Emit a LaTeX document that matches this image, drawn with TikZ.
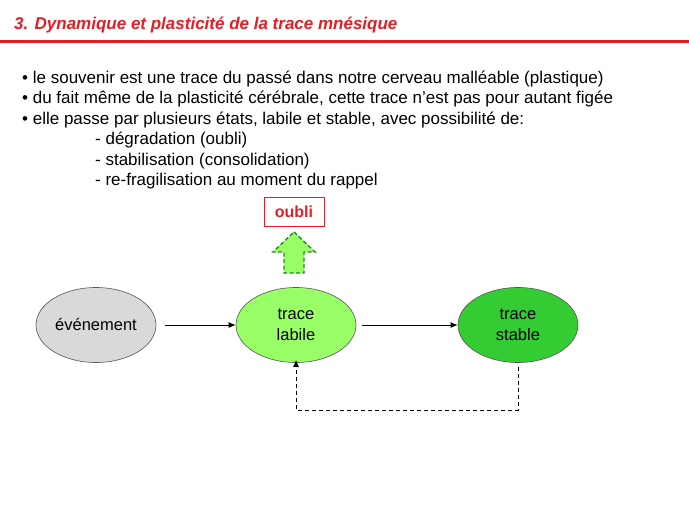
\documentclass[tikz,border=0pt]{standalone}
\usepackage{fontspec}
\setmainfont{Liberation Sans}
\usetikzlibrary{shapes.geometric,arrows.meta}
\definecolor{titlered}{HTML}{E31E24}
\definecolor{evgray}{HTML}{D9D9D9}
\definecolor{labgreen}{HTML}{99FF66}
\definecolor{stabgreen}{HTML}{33CC33}
\definecolor{edgegray}{HTML}{555555}
\definecolor{darkgreen}{HTML}{1E8C1E}
\tikzset{
  stage/.style={ellipse, draw=edgegray, line width=0.6pt, minimum width=120pt, minimum height=75pt, inner sep=0pt, align=center, font=\fontsize{16.5}{21}\selectfont},
  flow/.style={-{Latex[length=7pt,width=6pt]}, line width=0.9pt},
  txt/.style={anchor=base west, inner sep=0pt, font=\fontsize{17}{20}\selectfont}
}
\begin{document}
\begin{tikzpicture}[x=1pt,y=-1pt]
\useasboundingbox (0,0) rectangle (689,517);
\fill[white] (0,0) rectangle (689,517);
% title
\node[anchor=base west, inner sep=0pt, text=titlered, font=\fontsize{17}{19}\selectfont\bfseries\itshape] (title) at (14,29) {3. Dynamique et plasticité de la trace mnésique};
\fill[titlered] (0,40) rectangle (689,43);
% bullets
\node[txt] (b1) at (22,83) {• le souvenir est une trace du passé dans notre cerveau malléable (plastique)};
\node[txt] (b2) at (22,103.5) {• du fait même de la plasticité cérébrale, cette trace n’est pas pour autant figée};
\node[txt] (b3) at (22,124) {• elle passe par plusieurs états, labile et stable, avec possibilité de:};
\node[txt] (s1) at (95,144.5) {- dégradation (oubli)};
\node[txt] (s2) at (95,165) {- stabilisation (consolidation)};
\node[txt] (s3) at (95,185.5) {- re-fragilisation au moment du rappel};
% oubli
\node[draw=titlered, line width=0.6pt, text=titlered, font=\fontsize{16}{18}\selectfont\bfseries, minimum width=60pt, minimum height=29pt, inner sep=0pt] (oubli) at (294,212) {oubli};
% dashed up arrow
\draw[fill=labgreen, draw=darkgreen, dash pattern=on 4pt off 2.5pt, line width=1.4pt]
  (294,232) -- (315,252) -- (304,252) -- (304,273) -- (284,273) -- (284,252) -- (273,252) -- cycle;
% stages
\node[stage, fill=evgray] (ev) at (96,325) {événement};
\node[stage, fill=labgreen] (lab) at (296,325) {trace\\labile};
\node[stage, fill=stabgreen] (stab) at (518,325) {trace\\stable};
\coordinate (a1) at (165,325);
\draw[flow] (a1) -- (lab.west);
\coordinate (a3) at (362,325);
\draw[flow] (a3) -- (stab.west);
% feedback
\coordinate (fb1) at (518,367);
\coordinate (fb2) at (518,410);
\coordinate (fb3) at (296,410);
\draw[flow, dash pattern=on 4pt off 3pt] (fb1) -- (fb2) -- (fb3) -- ([yshift=3pt]lab.south);
\end{tikzpicture}
\end{document}
